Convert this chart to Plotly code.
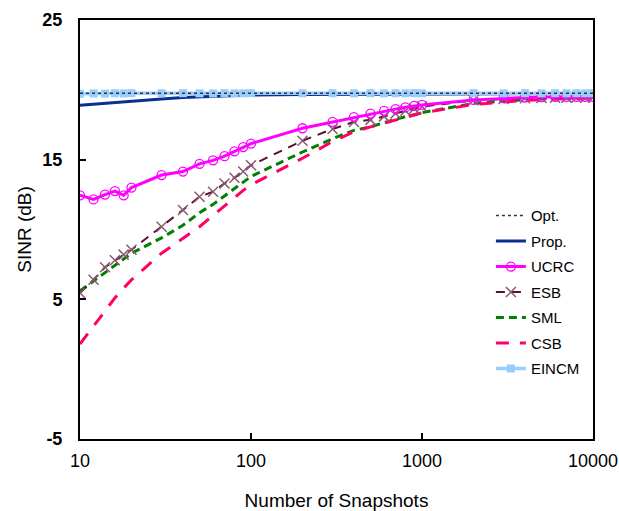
import plotly.graph_objects as go

snapshots = [10, 12, 14, 16, 18, 20, 30, 40, 50, 60, 70, 80, 90,
             100, 200, 300, 400, 500, 600, 700, 800, 900,
             1000, 2000, 3000, 4000, 5000, 6000, 7000, 8000, 9000, 10000]

opt = [19.76] * len(snapshots)
prop = [18.9, 18.98, 19.05, 19.1, 19.15, 19.2, 19.35, 19.45, 19.5, 19.55, 19.58, 19.6, 19.62,
        19.63, 19.67, 19.68, 19.69, 19.7, 19.7, 19.7, 19.71, 19.71,
        19.72, 19.73, 19.73, 19.74, 19.74, 19.74, 19.75, 19.75, 19.75, 19.75]
ucrc = [12.45, 12.15, 12.5, 12.75, 12.45, 13.0, 13.9, 14.15, 14.7, 14.95, 15.25, 15.6, 15.9,
        16.15, 17.25, 17.7, 18.05, 18.3, 18.5, 18.62, 18.75, 18.85,
        18.92, 19.28, 19.4, 19.45, 19.48, 19.5, 19.5, 19.5, 19.5, 19.5]
esb = [5.45, 6.4, 7.3, 7.8, 8.2, 8.55, 10.2, 11.4, 12.35, 12.7, 13.3, 13.7, 14.15,
       14.6, 16.35, 17.2, 17.7, 17.85, 18.1, 18.3, 18.5, 18.65,
       18.8, 19.25, 19.35, 19.4, 19.42, 19.43, 19.44, 19.45, 19.45, 19.45]
sml = [5.6, 6.3, 6.9, 7.4, 7.9, 8.3, 9.4, 10.3, 11.2, 11.8, 12.4, 12.9, 13.4,
       13.8, 15.55, 16.5, 17.1, 17.35, 17.65, 17.9, 18.08, 18.22,
       18.37, 19.03, 19.2, 19.3, 19.35, 19.38, 19.4, 19.42, 19.43, 19.45]
csb = [1.8, 3.1, 4.2, 5.1, 5.8, 6.4, 8.3, 9.4, 10.2, 11.0, 11.7, 12.3, 12.8,
       13.2, 15.1, 16.3, 17.0, 17.35, 17.6, 17.85, 18.05, 18.2,
       18.35, 18.95, 19.15, 19.25, 19.3, 19.35, 19.35, 19.4, 19.4, 19.42]
eincm = [19.72, 19.74, 19.73, 19.75, 19.74, 19.76, 19.75, 19.76, 19.75, 19.74, 19.76, 19.75, 19.75,
         19.76, 19.75, 19.76, 19.75, 19.76, 19.75, 19.76, 19.75, 19.76,
         19.75, 19.76, 19.75, 19.76, 19.75, 19.76, 19.75, 19.76, 19.75, 19.76]

x_ticks = [10, 100, 1000, 10000]
x_tick_text = ["10", "100", "1000", "10000"]
y_ticks = [-5, 5, 15, 25]
y_tick_text = ["-5", "5", "15", "25"]

FONT = "Liberation Sans, Arial, sans-serif"

fig = go.Figure()

def add(name, y, rank, line, mode="lines", marker=None):
    fig.add_trace(go.Scatter(
        x=snapshots, y=y, name=name, mode=mode, line=line,
        marker=marker, legendrank=rank, legendgroup=name))

add("SML", sml, 5, dict(color="#008000", width=3, dash="8px,5px"))
add("CSB", csb, 6, dict(color="#FF0066", width=3, dash="13px,11px"))
add("ESB", esb, 4, dict(color="#5A0F35", width=2, dash="9px,7px"), "lines+markers",
    dict(symbol="x-thin", size=10, line=dict(color="#8A5A72", width=1.5)))
add("UCRC", ucrc, 3, dict(color="#FF00FF", width=3), "lines+markers",
    dict(symbol="circle-open", size=9, color="#FF00FF", line=dict(width=1.3)))
add("Prop.", prop, 2, dict(color="#0A2F8F", width=3))
add("EINCM", eincm, 7, dict(color="#99CCFF", width=3.5), "lines+markers",
    dict(symbol="square", size=8, color="#99CCFF"))
add("Opt.", opt, 1, dict(color="#333333", width=1.5, dash="dot"))

fig.update_layout(
    width=619, height=511,
    margin=dict(l=80, r=26, t=20, b=72),
    paper_bgcolor="white", plot_bgcolor="white",
    font=dict(family=FONT, color="black"),
    showlegend=True,
    legend=dict(x=0.801, y=0.572, xanchor="left", yanchor="top",
                font=dict(size=15, family=FONT), tracegroupgap=3,
                traceorder="grouped", bgcolor="rgba(0,0,0,0)"),
)
fig.update_xaxes(
    type="log", range=[1, 4], tickvals=x_ticks, ticktext=x_tick_text,
    ticks="inside", ticklen=6, tickwidth=2, tickcolor="black",
    showline=True, linecolor="black", linewidth=2, mirror=True,
    showgrid=False, zeroline=False, automargin=False,
    tickfont=dict(size=18, family=FONT), ticklabelstandoff=4,
    title=dict(text="Number of Snapshots", font=dict(size=19, family=FONT), standoff=26),
)
fig.update_yaxes(
    range=[-5, 25], tickvals=y_ticks, ticktext=y_tick_text,
    ticks="inside", ticklen=6, tickwidth=2, tickcolor="black",
    showline=True, linecolor="black", linewidth=2, mirror=True,
    showgrid=False, zeroline=False, automargin=False,
    tickfont=dict(size=18, family=FONT, weight="bold"), ticklabelstandoff=12,
    title=dict(text="SINR (dB)", font=dict(size=19, family=FONT), standoff=6),
)

fig.write_html("out.html")
